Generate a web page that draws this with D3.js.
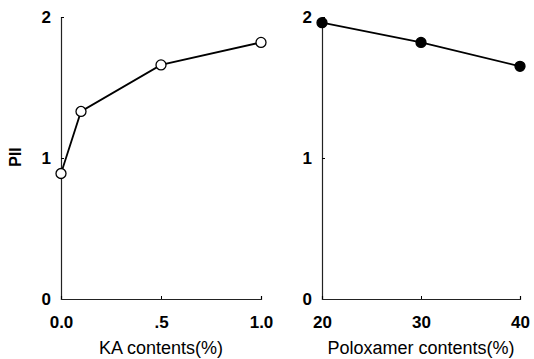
<!DOCTYPE html>
<html>
<head>
<meta charset="utf-8">
<script src="https://cdn.jsdelivr.net/npm/d3@7"></script>
<style>
body { margin: 0; background: #fff; }
svg { display: block; }
.tick text { font-family: "Liberation Sans", Arial, sans-serif; font-weight: bold; font-size: 17px; fill: #000; }
.title { font-family: "Liberation Sans", Arial, sans-serif; font-size: 18px; fill: #000; }
</style>
</head>
<body>
<div id="chart"></div>
<script>
// left panel: KA contents
var kaContents = [0.0, 0.1, 0.5, 1.0];
var kaPII = [0.89, 1.33, 1.66, 1.82];
var kaTicks = [0, 0.5, 1.0];
var kaTickLabels = ["0.0", ".5", "1.0"];

// right panel: poloxamer contents
var polContents = [20, 30, 40];
var polPII = [1.96, 1.82, 1.65];
var polTicks = [20, 30, 40];
var polTickLabels = ["20", "30", "40"];

var yTicks = [0, 1, 2];

var width = 534, height = 359;

var svg = d3.select("#chart").append("svg")
    .attr("width", width)
    .attr("height", height);

var y = d3.scaleLinear().domain([0, 2]).range([299, 17]);

function drawPanel(left, right, xDomain, ticks, tickLabels, xs, ys, filled, title) {
    var x = d3.scaleLinear().domain(xDomain).range([left, right]);

    // y axis
    var ya = svg.append("g")
        .attr("transform", "translate(" + left + ",0)")
        .call(d3.axisRight(y).tickValues(yTicks).tickSize(3).tickFormat(d3.format("d")));
    ya.select(".domain").attr("stroke", "#222").attr("stroke-width", 1.2);
    ya.selectAll(".tick text").attr("x", -10).attr("text-anchor", "end");

    // x axis
    var xa = svg.append("g")
        .attr("transform", "translate(0," + y(0) + ")")
        .call(d3.axisTop(x).tickValues(ticks).tickSize(3)
            .tickFormat(function(d, i){ return tickLabels[i]; }));
    xa.select(".domain").attr("stroke", "#222").attr("stroke-width", 1.2);
    xa.selectAll(".tick text").attr("y", 23).attr("dy", "0.35em");

    var pts = xs.map(function(d, i){ return [d, ys[i]]; });

    var line = d3.line()
        .x(function(d){ return x(d[0]); })
        .y(function(d){ return y(d[1]); });

    svg.append("path")
        .datum(pts)
        .attr("d", line)
        .attr("fill", "none")
        .attr("stroke", "#000")
        .attr("stroke-width", 1.8);

    svg.append("g")
        .selectAll("circle")
        .data(pts)
        .enter()
            .append("circle")
            .attr("cx", function(d){ return x(d[0]); })
            .attr("cy", function(d){ return y(d[1]); })
            .attr("r", 5)
            .attr("fill", filled ? "#000" : "#fff")
            .attr("stroke", "#000")
            .attr("stroke-width", 1.3);

    svg.append("text")
        .attr("class", "title")
        .attr("x", (left + right) / 2)
        .attr("y", 348)
        .attr("dy", "0.35em")
        .attr("text-anchor", "middle")
        .text(title);
}

drawPanel(61, 261, [0, 1], kaTicks, kaTickLabels, kaContents, kaPII, false, "KA contents(%)");
drawPanel(322, 520, [20, 40], polTicks, polTickLabels, polContents, polPII, true, "Poloxamer contents(%)");

// y axis title
svg.append("text")
    .attr("transform", "translate(15,157) rotate(-90)")
    .attr("text-anchor", "middle")
    .attr("dy", "0.35em")
    .style("font-family", "Liberation Sans, Arial, sans-serif")
    .style("font-weight", "bold")
    .style("font-size", "16px")
    .text("PII");
</script>
</body>
</html>
